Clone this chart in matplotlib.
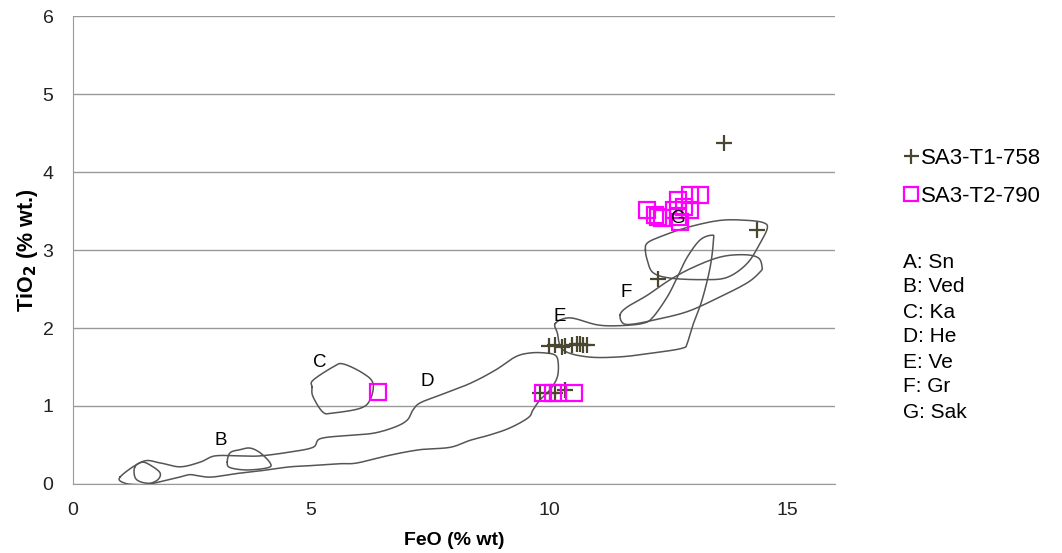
import numpy as np
import matplotlib
matplotlib.use('Agg')
import matplotlib.pyplot as plt

plt.rcParams['font.family'] = ['Liberation Sans', 'DejaVu Sans']

# sample data (FeO, TiO2)
t1_feo = [13.66, 14.37, 12.29,
          10.0, 10.13, 10.27, 10.34, 10.48, 10.59, 10.65, 10.71, 10.80,
          9.81, 10.02, 10.13, 10.34]
t1_tio2 = [4.37, 3.26, 2.63,
           1.77, 1.78, 1.76, 1.77, 1.78, 1.79, 1.80, 1.78, 1.78,
           1.17, 1.17, 1.17, 1.20]

t2_feo = [6.41, 9.87, 10.08, 10.19, 10.53,
          12.06, 12.23, 12.29, 12.37, 12.71, 12.96, 13.17, 12.71, 12.96,
          12.75, 12.84, 12.63]
t2_tio2 = [1.18, 1.17, 1.17, 1.17, 1.17,
           3.51, 3.45, 3.42, 3.41, 3.64, 3.71, 3.71, 3.42, 3.51,
           3.36, 3.55, 3.51]

# reference field outlines (closed)
field_a_x = [1.30, 1.47, 1.68, 1.83, 1.79, 1.62, 1.41, 1.30]
field_a_y = [0.22, 0.28, 0.22, 0.14, 0.06, 0.01, 0.03, 0.09]

field_b_x = [3.24, 3.30, 3.51, 3.72, 3.93, 4.14, 4.10, 3.66, 3.30]
field_b_y = [0.28, 0.40, 0.44, 0.46, 0.40, 0.27, 0.21, 0.18, 0.21]

field_c_x = [5.02, 5.04, 5.46, 5.67, 6.09, 6.30, 6.24, 6.03, 5.46, 5.25, 5.04]
field_c_y = [1.24, 1.33, 1.50, 1.54, 1.42, 1.29, 1.08, 0.97, 0.91, 0.92, 1.12]

field_d_x = [0.99, 1.47, 1.83, 2.25, 2.67, 2.98, 3.51, 3.93, 4.56, 5.04, 5.19,
             5.71, 6.30, 6.76, 7.02, 7.14, 7.29, 7.71, 8.34, 8.87, 9.29, 9.60,
             9.92, 10.13, 10.19, 10.17, 10.02, 9.81, 9.66, 9.56, 9.18, 8.76,
             8.34, 7.92, 7.29, 6.66, 5.97, 5.61, 5.13, 4.56, 4.08, 3.51, 2.94,
             2.67, 2.46, 2.25, 1.97, 1.62, 1.41, 1.09]
field_d_y = [0.09, 0.29, 0.27, 0.22, 0.28, 0.36, 0.36, 0.36, 0.41, 0.47, 0.58,
             0.62, 0.65, 0.73, 0.82, 0.95, 1.04, 1.14, 1.29, 1.46, 1.63, 1.68,
             1.68, 1.65, 1.55, 1.37, 1.21, 1.08, 0.95, 0.85, 0.72, 0.63,
             0.56, 0.47, 0.44, 0.37, 0.27, 0.26, 0.24, 0.22, 0.18, 0.14, 0.09,
             0.10, 0.12, 0.09, 0.05, 0.00, -0.01, 0.01]

field_e_x = [10.13, 10.44, 11.01, 11.49, 11.97, 12.18, 12.48, 12.69, 12.90,
             13.17, 13.42, 13.45, 13.38, 13.21, 13.03, 12.90, 12.79, 12.18,
             11.49, 10.80, 10.29, 10.17]
field_e_y = [2.06, 2.13, 2.04, 2.03, 2.06, 2.14, 2.40, 2.65, 2.91,
             3.13, 3.19, 3.13, 2.78, 2.36, 2.06, 1.81, 1.74, 1.68,
             1.63, 1.63, 1.72, 1.94]

field_f_x = [11.49, 11.55, 11.76, 12.18, 12.90, 13.59, 14.16, 14.43, 14.47,
             14.39, 14.08, 13.59, 13.03, 12.54, 12.06, 11.64]
field_f_y = [2.17, 2.06, 2.05, 2.10, 2.21, 2.40, 2.58, 2.72, 2.78,
             2.90, 2.94, 2.91, 2.78, 2.62, 2.42, 2.27]

field_g_x = [12.02, 12.06, 12.18, 12.54, 13.24, 13.74, 14.16, 14.43, 14.58,
             14.50, 14.16, 13.59, 12.90, 12.33, 12.06]
field_g_y = [3.00, 2.87, 2.71, 2.64, 2.62, 2.65, 2.83, 3.09, 3.28,
             3.35, 3.38, 3.38, 3.29, 3.17, 3.09]

field_labels = ['B', 'C', 'D', 'E', 'F', 'G']
label_x = [3.11, 5.19, 7.44, 10.23, 11.62, 12.71]
label_y = [0.56, 1.56, 1.32, 2.15, 2.46, 3.41]

key_lines = ['A: Sn', 'B: Ved', 'C: Ka', 'D: He', 'E: Ve', 'F: Gr', 'G: Sak']


def smooth_closed(xs, ys, n=12):
    # closed Catmull-Rom curve through the outline vertices
    p = np.column_stack([xs, ys])
    m = len(p)
    out = []
    for i in range(m):
        p0, p1, p2, p3 = p[i - 1], p[i], p[(i + 1) % m], p[(i + 2) % m]
        for t in np.linspace(0, 1, n, endpoint=False):
            t2, t3 = t * t, t * t * t
            out.append(0.5 * ((2 * p1) + (-p0 + p2) * t
                              + (2 * p0 - 5 * p1 + 4 * p2 - p3) * t2
                              + (-p0 + 3 * p1 - 3 * p2 + p3) * t3))
    out.append(out[0])
    out = np.array(out)
    return out[:, 0], out[:, 1]


fig = plt.figure(figsize=(10.62, 5.53), dpi=100)
ax = fig.add_axes([0.0687, 0.1248, 0.7175, 0.8462])

fields = [(field_a_x, field_a_y), (field_b_x, field_b_y), (field_c_x, field_c_y),
          (field_d_x, field_d_y), (field_e_x, field_e_y), (field_f_x, field_f_y),
          (field_g_x, field_g_y)]
for fx, fy in fields:
    sx, sy = smooth_closed(fx, fy)
    ax.plot(sx, sy, color='#555555', linewidth=1.1, zorder=2)

for lab, lx, ly in zip(field_labels, label_x, label_y):
    ax.text(lx, ly, lab, fontsize=13.5, ha='center', va='center', zorder=4)

h1, = ax.plot(t1_feo, t1_tio2, linestyle='none', marker='+', markersize=12,
              markeredgewidth=1.6, color='#4a4730', zorder=3)
h2, = ax.plot(t2_feo, t2_tio2, linestyle='none', marker='s', markersize=11,
              markerfacecolor='none', markeredgewidth=1.6, color='#ff00ff',
              zorder=3)

ax.set_xlim(0, 16)
ax.set_ylim(0, 6)
ax.set_xticks([0, 5, 10, 15])
ax.set_yticks([0, 1, 2, 3, 4, 5, 6])
ax.yaxis.grid(True, color='#999999', linewidth=1)
ax.set_axisbelow(True)
ax.tick_params(length=0, labelsize=14, colors='#222222')
ax.tick_params(axis='y', pad=14)
ax.tick_params(axis='x', pad=13)
ax.spines['right'].set_visible(False)
ax.spines['top'].set_visible(False)
ax.spines['left'].set_color('#999999')
ax.spines['bottom'].set_color('#999999')
ax.set_xlabel('FeO (% wt)', fontsize=14, fontweight='bold', labelpad=9)
ax.set_ylabel('TiO$_\\mathbf{2}$ (% wt.)', fontsize=15.5, fontweight='bold',
              labelpad=2)

fig.legend([h1, h2], ['SA3-T1-758', 'SA3-T2-790'], loc='upper left',
           bbox_to_anchor=(0.843, 0.748), frameon=False, fontsize=16,
           handlelength=0.6, handletextpad=0.15, labelspacing=0.75,
           markerscale=0.9, borderaxespad=0)

for i, line in enumerate(key_lines):
    fig.text(0.850, 1 - (262 + i * 25) / 553, line, fontsize=15,
             va='center', ha='left')

plt.savefig('out.png', dpi=100)
plt.close()
